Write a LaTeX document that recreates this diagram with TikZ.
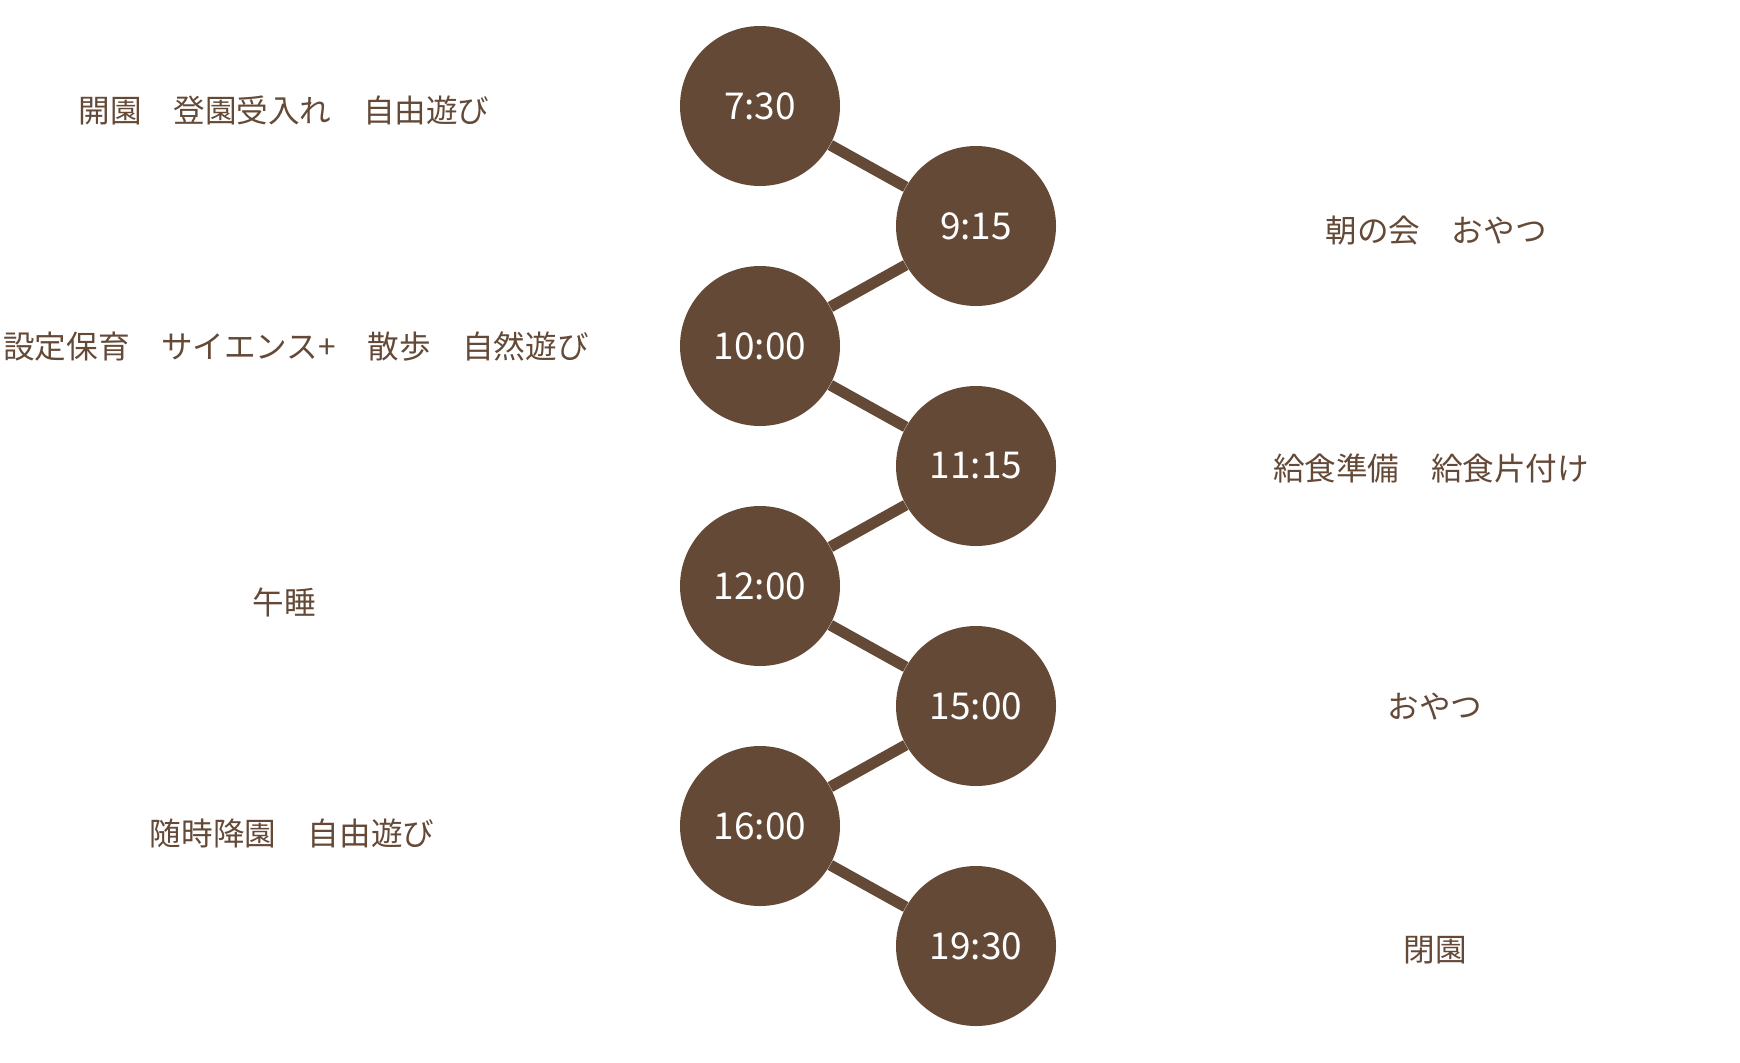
\documentclass[tikz,border=0pt]{standalone}
\usepackage{fontspec}
\setmainfont{Noto Sans CJK JP}
\definecolor{cocoa}{RGB}{100,73,55}
\tikzset{
  dot/.style={circle,fill=cocoa,minimum size=80pt,inner sep=0pt,text=white,font=\fontsize{18.5}{20}\selectfont},
  act/.style={text=cocoa,font=\fontsize{15.8}{18}\selectfont},
  link/.style={draw=cocoa,line width=5.5pt}
}
\begin{document}
\begin{tikzpicture}[x=0.5pt,y=-0.5pt]
\useasboundingbox (0,0) rectangle (1740,1062);
% time circles
\node[dot] (t1) at (760,106) {\raisebox{-2pt}{7:30}};
\node[dot] (t2) at (976,226) {\raisebox{-2pt}{9:15}};
\node[dot] (t3) at (760,346) {\raisebox{-2pt}{10:00}};
\node[dot] (t4) at (976,466) {\raisebox{-2pt}{11:15}};
\node[dot] (t5) at (760,586) {\raisebox{-2pt}{12:00}};
\node[dot] (t6) at (976,706) {\raisebox{-2pt}{15:00}};
\node[dot] (t7) at (760,826) {\raisebox{-2pt}{16:00}};
\node[dot] (t8) at (976,946) {\raisebox{-2pt}{19:30}};
\foreach \a/\b in {t1/t2,t2/t3,t3/t4,t4/t5,t5/t6,t6/t7,t7/t8}
  \draw[link] (\a) -- (\b);
% activities
\node[act] (a1) at (284,110) {開園　登園受入れ　自由遊び};
\node[act] (a3) at (296,346) {設定保育　サイエンス+　散歩　自然遊び};
\node[act] (a5) at (284,602) {午睡};
\node[act] (a7) at (292,833) {随時降園　自由遊び};
\node[act] (a2) at (1436,231) {朝の会　おやつ};
\node[act] (a4) at (1431,468) {給食準備　給食片付け};
\node[act] (a6) at (1435,707) {おやつ};
\node[act] (a8) at (1435,950) {閉園};
\end{tikzpicture}
\end{document}
